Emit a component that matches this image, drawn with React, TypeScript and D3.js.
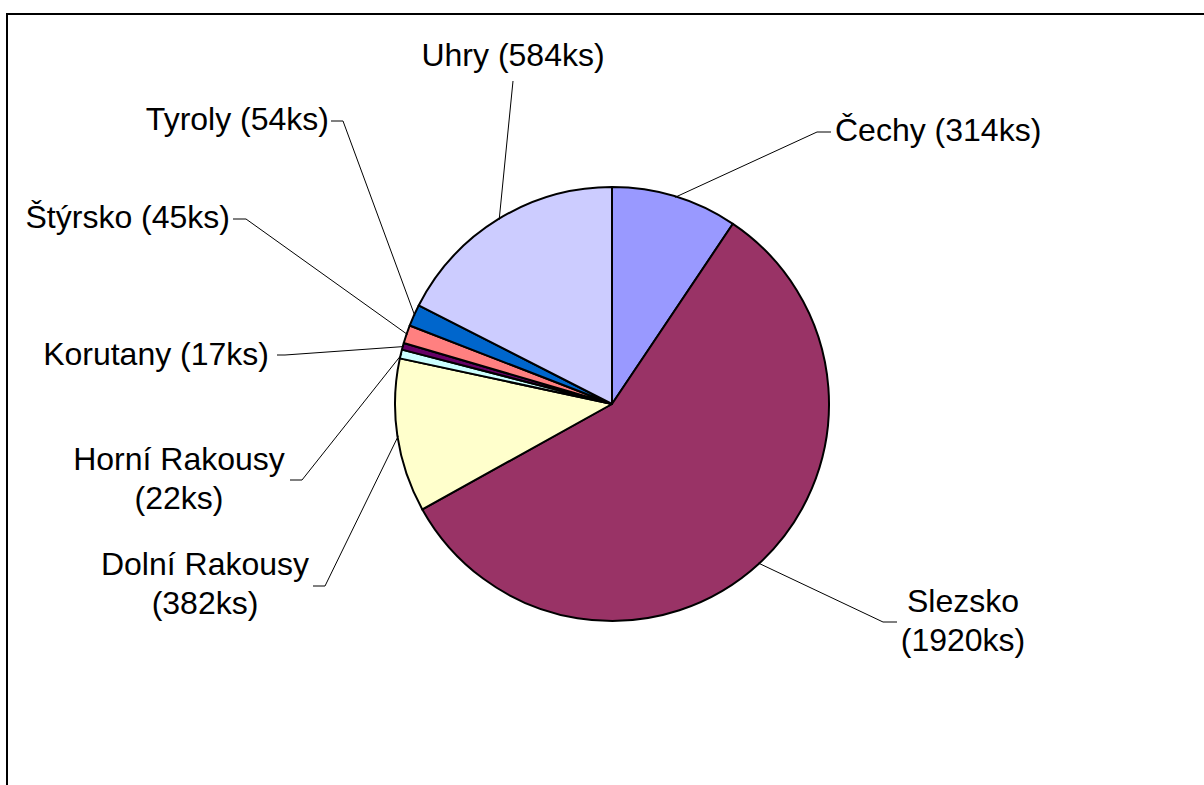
import React from 'react'
import * as d3 from 'd3'

// slices, clockwise from 12 o'clock
const regions = ['Čechy', 'Slezsko', 'Dolní Rakousy', 'Horní Rakousy', 'Korutany', 'Štýrsko', 'Tyroly', 'Uhry']
const counts = [314, 1920, 382, 22, 17, 45, 54, 584]
const sliceColors = ['#9999FF', '#993366', '#FFFFCC', '#CCFFFF', '#660066', '#FF8080', '#0066CC', '#CCCCFF']

// label layout: text anchor point, line split, where the leader bends
const labelLayout = [
  { x: 835, y: 141, anchor: 'start', lines: 1, elbow: [817, 132], end: [831, 132] },
  { x: 963, y: 612, anchor: 'middle', lines: 2, elbow: [883, 622], end: [897, 622] },
  { x: 205, y: 575, anchor: 'middle', lines: 2, elbow: [325, 586], end: [313, 586] },
  { x: 179, y: 470, anchor: 'middle', lines: 2, elbow: [302, 480], end: [290, 480] },
  { x: 269, y: 365, anchor: 'end', lines: 1, elbow: [285, 355], end: [277, 355] },
  { x: 230, y: 228, anchor: 'end', lines: 1, elbow: [246, 219], end: [233, 219] },
  { x: 329, y: 130, anchor: 'end', lines: 1, elbow: [343, 121], end: [331, 121] },
  { x: 513, y: 66, anchor: 'middle', lines: 1, elbow: [513, 81], end: [513, 81] },
]

const width = 1204
const height = 785
const cx = 612
const cy = 404
const radius = 217
const fontSize = 32

const App = () => {
  const pie = d3
    .pie<number>()
    .value(d => d)
    .sort(null)
  const slices = pie(counts)
  const arc = d3.arc<d3.PieArcDatum<number>>().innerRadius(0).outerRadius(radius)
  const edge = d3.arc<d3.PieArcDatum<number>>().innerRadius(radius - 1).outerRadius(radius - 1)

  return (
    <svg
      width={width}
      height={height}
      style={{ position: 'absolute', left: 0, top: 0, display: 'block' }}
      fontFamily="'Liberation Sans', Arial, sans-serif"
    >
      <rect x={0} y={0} width={width} height={height} fill="#fff" />
      <rect x={7} y={14} width={1400} height={1000} fill="none" stroke="#000" strokeWidth={2} />
      <g transform={`translate(${cx},${cy})`}>
        {slices.map((s, i) => (
          <path key={i} d={arc(s) || ''} fill={sliceColors[i]} stroke="#000" strokeWidth={2} strokeLinejoin="round" />
        ))}
      </g>
      {slices.map((s, i) => {
        const [ex, ey] = edge.centroid(s)
        const lay = labelLayout[i]
        const label = `${regions[i]} (${counts[i]}ks)`
        const pts = [[cx + ex, cy + ey], lay.elbow, lay.end]
        return (
          <g key={i}>
            <polyline
              points={pts.map(p => p.join(',')).join(' ')}
              fill="none"
              stroke="#000"
              strokeWidth={1}
            />
            {lay.lines === 1 ? (
              <text x={lay.x} y={lay.y} textAnchor={lay.anchor} fontSize={fontSize} fill="#000">
                {label}
              </text>
            ) : (
              <text x={lay.x} y={lay.y} textAnchor={lay.anchor} fontSize={fontSize} fill="#000">
                <tspan x={lay.x}>{regions[i]}</tspan>
                <tspan x={lay.x} dy={39}>{`(${counts[i]}ks)`}</tspan>
              </text>
            )}
          </g>
        )
      })}
    </svg>
  )
}

export default App
